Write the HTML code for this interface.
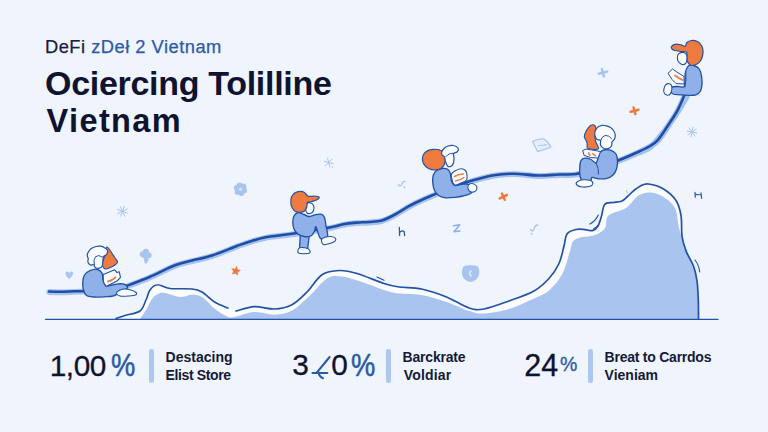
<!DOCTYPE html>
<html>
<head>
<meta charset="utf-8">
<title>DeFi Vietnam</title>
<style>
html,body{margin:0;padding:0;}
body{width:768px;height:432px;overflow:hidden;background:#f0f4fc;font-family:"Liberation Sans",sans-serif;position:relative;}
.abs{position:absolute;white-space:nowrap;line-height:1;}
.sub{left:45px;top:37.5px;font-size:18.3px;color:#1a2040;letter-spacing:0.5px;-webkit-text-stroke:0.25px #1a2040;}
.sub span{color:#2b5aa6;-webkit-text-stroke:0.25px #2b5aa6;}
.t1{left:45px;top:65.5px;font-size:34px;font-weight:bold;color:#0e1330;letter-spacing:-0.3px;}
.t2{left:46.5px;top:104.5px;font-size:32.5px;font-weight:bold;color:#0e1330;letter-spacing:1.4px;}
.num{font-size:29.8px;color:#0e1330;top:349.8px;letter-spacing:-0.7px;-webkit-text-stroke:0.3px #0e1330;}
.num span{color:#2b5aa6;-webkit-text-stroke:0.5px #2b5aa6;display:inline-block;transform-origin:0 50%;}
.bar{position:absolute;width:4.6px;top:349px;height:34px;background:#adc7ee;border-radius:2.3px;}
.lab{font-size:14px;font-weight:bold;color:#141a38;line-height:18.4px;top:347.55px;white-space:nowrap;}
.lab span{display:block;}
svg{position:absolute;left:0;top:0;}
</style>
</head>
<body>
<svg id="art" width="768" height="432" viewBox="0 0 768 432">
<!--ART-->
<path d="M116.0 318.6 C117.5 318.1 121.0 316.8 125.0 315.5 C129.0 314.2 136.5 313.6 140.0 311.0 C143.5 308.4 144.3 303.5 146.0 300.0 C147.7 296.5 148.1 292.6 150.0 290.0 C151.9 287.4 154.2 284.9 157.5 284.7 C160.8 284.4 164.2 287.8 170.0 288.5 C175.8 289.2 186.7 288.4 192.0 289.0 C197.3 289.6 198.2 289.8 202.0 292.0 C205.8 294.2 210.2 299.3 214.5 302.0 C218.8 304.7 225.8 307.0 228.0 308.0 L232 309.5 L236.0 311.0 C239.1 310.3 248.1 307.0 254.5 306.7 C260.9 306.4 268.2 309.3 274.5 309.0 C280.8 308.7 286.6 307.5 292.0 304.7 C297.4 301.9 302.0 297.0 307.0 292.0 C312.0 287.0 316.6 278.3 322.0 274.7 C327.4 271.1 333.7 270.7 339.5 270.5 C345.3 270.3 349.6 271.3 357.0 273.5 C364.4 275.7 377.0 281.2 384.0 283.5 C391.0 285.8 392.8 286.1 399.0 287.0 C405.2 287.9 413.6 287.3 421.5 289.0 C429.4 290.7 438.6 293.8 446.5 297.0 C454.4 300.2 462.8 306.0 469.0 308.0 C475.2 310.0 477.3 310.2 484.0 309.0 C490.7 307.8 500.7 304.0 509.0 301.0 C517.3 298.0 527.3 294.8 534.0 291.0 C540.7 287.2 544.8 283.1 549.0 278.5 C553.2 273.9 556.5 268.9 559.0 263.5 C561.5 258.1 562.7 250.9 564.0 246.0 C565.3 241.1 565.0 236.8 567.0 234.0 C569.0 231.2 573.0 230.2 576.0 229.5 C579.0 228.8 582.2 229.4 585.0 229.6 C587.8 229.8 590.3 231.2 592.5 230.6 C594.7 230.0 596.5 228.4 598.0 226.0 C599.5 223.6 600.4 219.6 601.5 216.0 C602.6 212.4 602.8 206.8 604.7 204.5 C606.6 202.2 610.2 203.0 613.0 202.5 C615.8 202.0 619.1 202.3 621.5 201.3 C623.9 200.3 625.5 198.3 627.5 196.5 C629.5 194.7 631.6 192.3 633.8 190.6 C636.0 188.8 638.0 187.1 640.5 186.0 C643.0 184.9 644.7 183.5 648.5 184.0 C652.3 184.5 658.9 186.2 663.5 189.0 C668.1 191.8 673.1 196.1 676.0 200.5 C678.9 204.9 680.0 209.6 681.0 215.5 C682.0 221.4 681.2 230.1 682.0 236.0 C682.8 241.9 684.1 246.0 686.0 251.0 C687.9 256.0 691.7 261.0 693.5 266.0 C695.3 271.0 696.2 275.3 697.0 281.0 C697.8 286.7 698.0 293.7 698.3 300.0 C698.5 306.3 698.5 315.8 698.5 319.0 L116 319Z" fill="#fafcff" />
<path d="M140.0 319.0 C141.0 317.5 144.0 313.3 146.0 310.0 C148.0 306.7 150.0 301.7 152.0 299.0 C154.0 296.3 155.8 295.0 158.0 294.0 C160.2 293.0 161.3 292.5 165.0 293.0 C168.7 293.5 175.5 296.7 180.0 297.0 C184.5 297.3 188.3 294.7 192.0 294.7 C195.7 294.7 198.2 294.7 202.0 297.0 C205.8 299.3 210.3 305.2 214.5 308.5 C218.7 311.8 223.7 315.1 227.0 316.5 C230.3 317.9 229.9 317.8 234.5 317.0 C239.1 316.2 247.8 312.4 254.5 312.0 C261.2 311.6 268.2 314.9 274.5 314.7 C280.8 314.4 286.2 313.6 292.0 310.5 C297.8 307.4 303.7 301.3 309.5 296.0 C315.3 290.7 321.6 281.8 327.0 278.5 C332.4 275.2 336.2 275.9 342.0 276.5 C347.8 277.1 355.0 279.8 362.0 282.0 C369.0 284.2 377.8 288.1 384.0 290.0 C390.2 291.9 392.8 292.7 399.0 293.5 C405.2 294.3 413.6 293.6 421.5 295.0 C429.4 296.4 438.6 299.3 446.5 302.0 C454.4 304.7 462.8 309.1 469.0 311.0 C475.2 312.9 477.3 313.8 484.0 313.5 C490.7 313.2 500.7 311.5 509.0 309.0 C517.3 306.5 527.3 301.6 534.0 298.5 C540.7 295.4 544.3 294.6 549.0 290.5 C553.7 286.4 558.8 280.6 562.3 274.0 C565.8 267.4 568.2 256.4 570.0 251.0 C571.8 245.6 571.3 243.8 573.0 241.5 C574.7 239.2 577.3 238.4 580.3 237.5 C583.3 236.6 587.8 236.8 591.0 236.0 C594.2 235.2 597.0 234.5 599.4 233.0 C601.8 231.5 604.0 229.9 605.5 227.0 C607.0 224.1 605.1 218.7 608.5 215.5 C611.9 212.3 621.0 211.3 626.0 208.0 C631.0 204.7 634.3 198.1 638.5 195.5 C642.7 192.9 646.8 192.2 651.0 192.5 C655.2 192.8 659.5 194.4 663.5 197.0 C667.5 199.6 672.4 202.8 675.0 208.0 C677.6 213.2 677.7 222.7 679.0 228.0 C680.3 233.3 681.5 235.8 683.0 240.0 C684.5 244.2 686.2 248.5 688.0 253.0 C689.8 257.5 692.5 262.3 694.0 267.0 C695.5 271.7 696.3 275.5 697.0 281.0 C697.7 286.5 697.8 293.7 698.0 300.0 C698.2 306.3 698.4 315.8 698.5 319.0 L140 319Z" fill="#a9c4ee" />
<path d="M45.5 319.3 L718 319.3" fill="none" stroke="#2152a6" stroke-width="1.35" stroke-linecap="round" stroke-linejoin="round" />
<path d="M116.0 318.6 C117.5 318.1 121.0 316.8 125.0 315.5 C129.0 314.2 136.5 313.6 140.0 311.0 C143.5 308.4 144.3 303.5 146.0 300.0 C147.7 296.5 148.1 292.6 150.0 290.0 C151.9 287.4 154.2 284.9 157.5 284.7 C160.8 284.4 164.2 287.8 170.0 288.5 C175.8 289.2 186.7 288.4 192.0 289.0 C197.3 289.6 198.2 289.8 202.0 292.0 C205.8 294.2 210.2 299.3 214.5 302.0 C218.8 304.7 225.8 307.0 228.0 308.0" fill="none" stroke="#2152a6" stroke-width="1.6" stroke-linecap="round" stroke-linejoin="round" />
<path d="M236.0 311.0 C239.1 310.3 248.1 307.0 254.5 306.7 C260.9 306.4 268.2 309.3 274.5 309.0 C280.8 308.7 286.6 307.5 292.0 304.7 C297.4 301.9 302.0 297.0 307.0 292.0 C312.0 287.0 316.6 278.3 322.0 274.7 C327.4 271.1 333.7 270.7 339.5 270.5 C345.3 270.3 349.6 271.3 357.0 273.5 C364.4 275.7 377.0 281.2 384.0 283.5 C391.0 285.8 392.8 286.1 399.0 287.0 C405.2 287.9 413.6 287.3 421.5 289.0 C429.4 290.7 438.6 293.8 446.5 297.0 C454.4 300.2 462.8 306.0 469.0 308.0 C475.2 310.0 477.3 310.2 484.0 309.0 C490.7 307.8 500.7 304.0 509.0 301.0 C517.3 298.0 527.3 294.8 534.0 291.0 C540.7 287.2 544.8 283.1 549.0 278.5 C553.2 273.9 556.5 268.9 559.0 263.5 C561.5 258.1 562.7 250.9 564.0 246.0 C565.3 241.1 565.0 236.8 567.0 234.0 C569.0 231.2 573.0 230.2 576.0 229.5 C579.0 228.8 582.2 229.4 585.0 229.6 C587.8 229.8 590.3 231.2 592.5 230.6 C594.7 230.0 596.5 228.4 598.0 226.0 C599.5 223.6 600.4 219.6 601.5 216.0 C602.6 212.4 602.8 206.8 604.7 204.5 C606.6 202.2 610.2 203.0 613.0 202.5 C615.8 202.0 619.1 202.3 621.5 201.3 C623.9 200.3 625.5 198.3 627.5 196.5 C629.5 194.7 631.6 192.3 633.8 190.6 C636.0 188.8 638.0 187.1 640.5 186.0 C643.0 184.9 644.7 183.5 648.5 184.0 C652.3 184.5 658.9 186.2 663.5 189.0 C668.1 191.8 673.1 196.1 676.0 200.5 C678.9 204.9 680.0 209.6 681.0 215.5 C682.0 221.4 681.2 230.1 682.0 236.0 C682.8 241.9 684.1 246.0 686.0 251.0 C687.9 256.0 691.7 261.0 693.5 266.0 C695.3 271.0 696.2 275.3 697.0 281.0 C697.8 286.7 698.0 293.7 698.3 300.0 C698.5 306.3 698.5 315.8 698.5 319.0" fill="none" stroke="#2152a6" stroke-width="1.7" stroke-linecap="round" stroke-linejoin="round" />
<path d="M377 277 L384 280.3" fill="none" stroke="#2152a6" stroke-width="1.2" stroke-linecap="round" stroke-linejoin="round" />
<path d="M695 260 Q699 265 699.7 272" fill="none" stroke="#2152a6" stroke-width="1.1" stroke-linecap="round" stroke-linejoin="round" />
<path d="M590 224 Q595.5 221 598.3 215" fill="none" stroke="#2152a6" stroke-width="1.2" stroke-linecap="round" stroke-linejoin="round" />
<path d="M593.5 228.8 Q596.5 227.5 598.5 224.5" fill="none" stroke="#2152a6" stroke-width="1.0" stroke-linecap="round" stroke-linejoin="round" />
<path d="M626.5 190.5 L627.5 193" fill="none" stroke="#a9c4ee" stroke-width="1.0" stroke-linecap="round" stroke-linejoin="round" />
<path d="M49.2 292.0 C51.0 292.1 55.9 292.3 60.2 292.3 C64.5 292.3 70.5 291.9 75.2 291.8 C79.9 291.7 86.0 291.6 88.2 291.5" fill="none" stroke="#a6c2ef" stroke-width="5.8" stroke-linecap="round" stroke-linejoin="round" />
<path d="M118.2 289.5 C120.2 288.8 124.9 287.1 130.2 285.1 C135.5 283.1 142.7 280.5 150.2 277.3 C157.7 274.1 168.2 268.5 175.2 265.8 C182.2 263.1 186.0 262.7 192.2 261.1 C198.4 259.5 204.7 258.4 212.2 256.0 C219.7 253.6 230.9 248.8 237.2 246.5 C243.5 244.2 245.2 243.5 250.2 242.0 C255.2 240.5 260.2 238.8 267.2 237.5 C274.2 236.2 281.5 235.9 292.2 234.3 C302.9 232.7 322.7 229.4 331.2 227.8 C339.7 226.2 339.0 225.6 343.2 224.8 C347.4 224.0 351.9 223.5 356.2 223.1 C360.5 222.7 364.9 222.9 369.2 222.5 C373.5 222.1 377.9 222.2 382.2 220.9 C386.5 219.7 390.9 217.3 395.2 215.0 C399.5 212.7 403.9 209.6 408.2 207.2 C412.5 204.8 416.9 202.7 421.2 200.7 C425.5 198.7 428.5 197.5 434.2 195.1 C439.9 192.7 448.5 188.9 455.2 186.5 C461.9 184.1 467.7 182.3 474.2 180.5 C480.7 178.7 487.5 176.8 494.2 175.7 C500.9 174.6 506.7 174.1 514.2 174.2 C521.7 174.2 531.7 175.9 539.2 176.0 C546.7 176.1 553.0 175.2 559.2 175.0 C565.4 174.8 570.9 175.4 576.2 174.5 C581.5 173.6 584.5 171.9 591.2 169.8 C597.9 167.7 608.3 164.7 616.2 161.8 C624.1 158.9 633.0 154.9 638.7 152.3 C644.4 149.8 647.0 148.5 650.2 146.5 C653.5 144.5 655.2 143.7 658.2 140.3 C661.2 136.9 664.8 131.2 668.0 126.3 C671.2 121.4 674.9 116.1 677.7 111.0 C680.5 105.9 683.5 98.3 684.6 95.8" fill="none" stroke="#a6c2ef" stroke-width="5.8" stroke-linecap="round" stroke-linejoin="round" />
<path d="M640.0 152.5 C641.7 151.7 647.2 149.5 650.0 147.5 C652.8 145.5 653.8 143.8 656.5 140.5 C659.2 137.2 662.5 133.5 666.5 128.0 C670.5 122.5 677.1 112.8 680.5 107.5 C683.9 102.2 685.9 98.3 687.0 96.5" fill="none" stroke="#a3c0ee" stroke-width="5.5" stroke-linecap="round" stroke-linejoin="round" />
<path d="M49.0 291.5 C50.8 291.6 55.7 291.8 60.0 291.8 C64.3 291.8 70.3 291.4 75.0 291.3 C79.7 291.2 85.8 291.1 88.0 291.0" fill="none" stroke="#1f4ea4" stroke-width="2.6" stroke-linecap="round" stroke-linejoin="round" />
<path d="M118.0 289.0 C120.0 288.3 124.7 286.6 130.0 284.6 C135.3 282.6 142.5 280.0 150.0 276.8 C157.5 273.6 168.0 268.0 175.0 265.3 C182.0 262.6 185.8 262.2 192.0 260.6 C198.2 259.0 204.5 257.9 212.0 255.5 C219.5 253.1 230.7 248.3 237.0 246.0 C243.3 243.7 245.0 243.0 250.0 241.5 C255.0 240.0 260.0 238.3 267.0 237.0 C274.0 235.7 281.3 235.4 292.0 233.8 C302.7 232.2 322.5 228.9 331.0 227.3 C339.5 225.7 338.8 225.1 343.0 224.3 C347.2 223.5 351.7 223.0 356.0 222.6 C360.3 222.2 364.7 222.4 369.0 222.0 C373.3 221.6 377.7 221.7 382.0 220.4 C386.3 219.2 390.7 216.8 395.0 214.5 C399.3 212.2 403.7 209.1 408.0 206.7 C412.3 204.3 416.7 202.2 421.0 200.2 C425.3 198.2 428.3 197.0 434.0 194.6 C439.7 192.2 448.3 188.4 455.0 186.0 C461.7 183.6 467.5 181.8 474.0 180.0 C480.5 178.2 487.3 176.2 494.0 175.2 C500.7 174.1 506.5 173.6 514.0 173.7 C521.5 173.8 531.5 175.4 539.0 175.5 C546.5 175.6 552.8 174.8 559.0 174.5 C565.2 174.2 570.7 174.9 576.0 174.0 C581.3 173.1 584.3 171.4 591.0 169.3 C597.7 167.2 608.1 164.2 616.0 161.3 C623.9 158.4 632.8 154.4 638.5 151.8 C644.2 149.2 646.8 148.0 650.0 146.0 C653.2 144.0 655.0 143.2 658.0 139.8 C661.0 136.4 664.5 130.7 667.8 125.8 C671.0 120.9 674.7 115.6 677.5 110.5 C680.3 105.4 683.2 97.8 684.4 95.3" fill="none" stroke="#1f4ea4" stroke-width="2.6" stroke-linecap="round" stroke-linejoin="round" />
<path d="M97.0 269.3 C95.0 268.9 92.1 269.8 90.0 270.7 C87.9 271.6 85.7 273.1 84.5 275.0 C83.3 276.9 83.0 279.5 82.8 282.0 C82.6 284.5 82.9 287.8 83.5 290.0 C84.1 292.2 84.8 294.3 86.5 295.5 C88.2 296.7 91.1 296.8 94.0 297.0 C96.9 297.2 100.8 297.0 104.0 296.8 C107.2 296.6 110.5 296.6 113.0 296.0 C115.5 295.4 117.2 294.0 119.0 293.0 C120.8 292.0 122.6 290.9 124.0 290.0 C125.4 289.1 127.5 288.5 127.5 287.5 C127.5 286.5 125.4 284.8 124.0 284.2 C122.6 283.6 121.0 283.7 119.0 283.8 C117.0 283.9 114.2 284.6 112.0 285.0 C109.8 285.4 107.5 286.8 106.0 286.0 C104.5 285.2 103.7 282.2 103.0 280.0 C102.3 277.8 103.0 274.8 102.0 273.0 C101.0 271.2 99.0 269.7 97.0 269.3Z" fill="#8fb0e8" stroke="#2152a6" stroke-width="1.35" stroke-linecap="round" stroke-linejoin="round" />
<path d="M116.5 293.5 C116.3 292.6 117.8 291.2 119.0 290.5 C120.2 289.8 122.0 289.1 124.0 289.0 C126.0 288.9 129.0 289.4 131.0 290.0 C133.0 290.6 135.2 291.7 136.0 292.5 C136.8 293.3 136.8 294.4 135.5 295.0 C134.2 295.6 130.6 295.8 128.0 296.0 C125.4 296.2 121.9 296.4 120.0 296.0 C118.1 295.6 116.7 294.4 116.5 293.5Z" fill="#fbfcff" stroke="#2152a6" stroke-width="1.1" stroke-linecap="round" stroke-linejoin="round" />
<path d="M103.2 274.5 L114.8 269.8 L117 272.6 L119.3 271.8 L120.5 277.3 L117 281 L106 286.4 L103.4 282 Z" fill="#fbfcff" stroke="#2152a6" stroke-width="1.1" stroke-linecap="round" stroke-linejoin="round" />
<path d="M108 281.5 Q111.5 281 115.5 277.3" fill="none" stroke="#ef7a40" stroke-width="1.8" stroke-linecap="round" stroke-linejoin="round" />
<path d="M107.0 247.0 C107.9 247.2 109.8 250.0 111.0 251.7 C112.2 253.4 113.4 255.4 114.5 257.2 C115.6 258.9 117.8 260.7 117.5 262.2 C117.2 263.7 115.0 265.1 113.0 266.2 C111.0 267.3 107.3 269.4 105.5 269.0 C103.7 268.6 102.5 265.8 102.3 263.7 C102.1 261.6 104.0 258.9 104.5 256.7 C105.0 254.5 105.1 252.3 105.5 250.7 C105.9 249.1 106.1 246.8 107.0 247.0Z" fill="#ef7a40" stroke="#2152a6" stroke-width="1.1" stroke-linecap="round" stroke-linejoin="round" />
<path d="M96.0 246.5 C97.6 246.1 99.1 246.0 100.5 246.2 C101.9 246.4 103.3 246.9 104.5 247.7 C105.7 248.4 107.2 249.5 107.5 250.7 C107.8 251.9 107.2 253.7 106.5 254.7 C105.8 255.7 104.1 255.6 103.5 256.7 C102.9 257.8 103.0 259.7 102.8 261.2 C102.6 262.7 102.8 264.5 102.3 265.7 C101.8 266.9 100.6 267.9 99.5 268.2 C98.4 268.5 96.5 268.3 95.5 267.7 C94.5 267.1 94.3 265.1 93.5 264.7 C92.7 264.2 91.4 265.4 90.5 265.0 C89.6 264.6 88.4 263.2 88.0 262.2 C87.6 261.1 88.3 259.9 88.2 258.7 C88.1 257.5 87.2 256.4 87.2 255.2 C87.2 254.0 87.9 252.8 88.5 251.7 C89.1 250.6 89.8 249.6 91.0 248.7 C92.2 247.8 94.4 246.9 96.0 246.5Z" fill="#fbfcff" stroke="#2152a6" stroke-width="1.2" stroke-linecap="round" stroke-linejoin="round" />
<path d="M94.3 264.7 Q93 259.7 95.5 256.7 Q98.5 254.2 102.5 257" fill="none" stroke="#2152a6" stroke-width="1.0" stroke-linecap="round" stroke-linejoin="round" />
<path d="M300.5 232 L299.5 248.5 L307.5 249.5 L309.5 234 Z" fill="#8fb0e8" stroke="#2152a6" stroke-width="1.35" stroke-linecap="round" stroke-linejoin="round" />
<path d="M298.0 250.0 C298.2 249.1 298.7 248.1 300.0 247.8 C301.3 247.5 304.4 247.6 306.0 248.0 C307.6 248.4 309.2 249.6 309.7 250.5 C310.2 251.4 310.8 252.8 309.0 253.3 C307.2 253.8 300.8 253.9 299.0 253.3 C297.2 252.8 297.8 250.9 298.0 250.0Z" fill="#fbfcff" stroke="#2152a6" stroke-width="1.1" stroke-linecap="round" stroke-linejoin="round" />
<path d="M298.0 212.5 C296.3 212.8 294.9 214.4 294.0 216.0 C293.1 217.6 292.8 219.8 292.8 222.0 C292.8 224.2 293.1 227.0 294.0 229.0 C294.9 231.0 296.3 232.8 298.0 234.0 C299.7 235.2 301.8 236.2 304.0 236.5 C306.2 236.8 309.2 236.9 311.0 236.0 C312.8 235.1 313.7 232.5 314.5 231.0 C315.3 229.5 315.0 225.8 316.0 227.0 C317.0 228.2 318.6 236.9 320.5 238.5 C322.4 240.1 326.6 238.6 327.5 236.5 C328.4 234.4 326.5 229.2 326.0 226.0 C325.5 222.8 325.3 219.5 324.5 217.5 C323.7 215.5 322.6 214.6 321.0 214.2 C319.4 213.8 317.0 214.4 315.0 214.8 C313.0 215.2 310.8 216.6 309.0 216.5 C307.2 216.4 305.8 215.2 304.0 214.5 C302.2 213.8 299.7 212.2 298.0 212.5Z" fill="#8fb0e8" stroke="#2152a6" stroke-width="1.35" stroke-linecap="round" stroke-linejoin="round" />
<path d="M321.5 239.5 C321.8 238.3 323.4 237.8 325.0 237.3 C326.6 236.8 329.2 236.3 331.0 236.5 C332.8 236.7 334.9 237.7 335.5 238.5 C336.1 239.3 335.8 240.6 334.5 241.5 C333.2 242.4 329.9 243.5 328.0 244.0 C326.1 244.5 324.1 245.1 323.0 244.3 C321.9 243.6 321.2 240.7 321.5 239.5Z" fill="#fbfcff" stroke="#2152a6" stroke-width="1.1" stroke-linecap="round" stroke-linejoin="round" />
<path d="M307.0 203.5 C307.9 202.7 309.9 202.6 311.0 203.0 C312.1 203.4 313.3 204.8 313.7 206.0 C314.1 207.2 313.9 209.3 313.5 210.5 C313.1 211.7 312.1 212.8 311.0 213.2 C309.9 213.6 307.9 213.9 307.0 213.0 C306.1 212.1 305.5 209.6 305.5 208.0 C305.5 206.4 306.1 204.3 307.0 203.5Z" fill="#fbfcff" stroke="#2152a6" stroke-width="1.1" stroke-linecap="round" stroke-linejoin="round" />
<path d="M290.8 203.0 C290.7 201.2 290.8 198.7 291.5 197.0 C292.2 195.3 293.6 193.8 295.0 192.8 C296.4 191.9 298.4 191.4 300.0 191.3 C301.6 191.2 303.2 191.7 304.5 192.5 C305.8 193.3 306.4 195.4 308.0 196.0 C309.6 196.6 312.2 196.1 314.0 196.2 C315.8 196.3 318.4 196.2 319.0 196.8 C319.6 197.4 318.7 198.7 317.5 199.5 C316.3 200.3 313.7 201.0 312.0 201.5 C310.3 202.0 308.4 201.6 307.5 202.5 C306.6 203.4 307.3 205.6 306.8 207.0 C306.3 208.4 305.6 210.1 304.5 211.0 C303.4 211.9 301.5 212.2 300.0 212.3 C298.5 212.4 296.8 212.2 295.5 211.5 C294.2 210.8 293.1 209.4 292.3 208.0 C291.5 206.6 290.9 204.8 290.8 203.0Z" fill="#ef7a40" stroke="#2152a6" stroke-width="1.2" stroke-linecap="round" stroke-linejoin="round" />
<path d="M442.0 168.5 C440.1 168.7 438.0 169.3 436.5 170.5 C435.0 171.7 433.8 173.4 433.2 175.5 C432.6 177.6 432.6 180.5 432.8 183.0 C433.0 185.5 433.5 188.4 434.5 190.5 C435.5 192.6 437.1 194.6 439.0 195.8 C440.9 197.0 443.3 197.6 446.0 197.8 C448.7 198.1 452.2 197.6 455.0 197.3 C457.8 197.0 460.5 196.6 463.0 196.0 C465.5 195.4 468.4 194.9 470.0 193.8 C471.6 192.7 473.0 191.1 472.8 189.5 C472.6 187.9 470.8 185.4 469.0 184.5 C467.2 183.6 464.3 184.1 462.0 184.3 C459.7 184.5 456.8 186.1 455.0 185.5 C453.2 184.9 452.2 182.9 451.5 181.0 C450.8 179.1 451.1 175.9 450.5 174.0 C449.9 172.1 449.4 170.4 448.0 169.5 C446.6 168.6 443.9 168.3 442.0 168.5Z" fill="#8fb0e8" stroke="#2152a6" stroke-width="1.35" stroke-linecap="round" stroke-linejoin="round" />
<path d="M468.5 185.0 C469.2 184.2 470.8 183.4 472.0 183.5 C473.2 183.6 475.2 184.6 476.0 185.5 C476.8 186.4 477.1 187.9 476.8 189.0 C476.6 190.1 475.6 191.4 474.5 191.8 C473.4 192.2 471.1 192.1 470.0 191.5 C468.9 190.9 468.2 189.6 468.0 188.5 C467.8 187.4 467.8 185.8 468.5 185.0Z" fill="#fbfcff" stroke="#2152a6" stroke-width="1.1" stroke-linecap="round" stroke-linejoin="round" />
<path d="M451.3 175.0 C451.4 172.7 453.4 172.0 455.0 171.0 C456.6 170.0 459.2 168.9 461.0 168.8 C462.8 168.7 464.5 169.5 465.5 170.5 C466.5 171.5 466.8 173.4 467.0 175.0 C467.2 176.6 467.5 178.7 466.5 180.0 C465.5 181.3 463.0 182.2 461.0 183.0 C459.0 183.8 455.9 186.1 454.3 184.8 C452.7 183.5 451.2 177.3 451.3 175.0Z" fill="#fbfcff" stroke="#2152a6" stroke-width="1.1" stroke-linecap="round" stroke-linejoin="round" />
<path d="M454.5 176.5 Q459 173.8 463.5 174 M455.5 181 Q460 180.5 464 177.5" fill="none" stroke="#ef7a40" stroke-width="1.5" stroke-linecap="round" stroke-linejoin="round" />
<path d="M433.0 149.3 C434.9 149.2 437.2 149.2 439.0 149.8 C440.8 150.4 442.8 151.6 443.8 153.0 C444.9 154.4 445.2 156.7 445.3 158.5 C445.4 160.3 445.2 162.3 444.5 164.0 C443.8 165.7 442.6 167.5 441.0 168.5 C439.4 169.5 437.1 170.0 435.0 170.0 C432.9 170.0 430.3 169.4 428.5 168.5 C426.7 167.6 425.0 165.8 424.0 164.3 C423.0 162.8 422.4 161.0 422.4 159.3 C422.4 157.6 422.9 155.4 423.8 154.0 C424.7 152.6 426.3 151.4 427.8 150.6 C429.3 149.8 431.1 149.4 433.0 149.3Z" fill="#ef7a40" stroke="#2152a6" stroke-width="1.2" stroke-linecap="round" stroke-linejoin="round" />
<path d="M441.5 154.0 C441.3 152.7 442.4 150.3 443.5 149.0 C444.6 147.7 446.3 146.6 448.0 146.0 C449.7 145.4 451.8 145.1 453.5 145.5 C455.2 145.9 457.7 147.4 458.3 148.5 C458.9 149.6 457.8 151.2 457.0 152.0 C456.2 152.8 454.0 152.5 453.5 153.5 C453.0 154.5 454.0 156.4 454.0 158.0 C454.0 159.6 454.0 161.6 453.5 163.0 C453.0 164.4 452.0 165.8 451.0 166.3 C450.0 166.8 448.4 166.8 447.5 166.0 C446.6 165.2 446.0 163.0 445.5 161.5 C445.0 160.0 445.2 158.2 444.5 157.0 C443.8 155.8 441.7 155.3 441.5 154.0Z" fill="#fbfcff" stroke="#2152a6" stroke-width="1.2" stroke-linecap="round" stroke-linejoin="round" />
<path d="M446 156.5 Q449 152.5 454 153.5" fill="none" stroke="#2152a6" stroke-width="1.0" stroke-linecap="round" stroke-linejoin="round" />
<path d="M604.0 150.0 C605.8 149.6 609.0 149.6 611.0 150.3 C613.0 151.0 614.9 152.2 616.0 154.0 C617.1 155.8 617.4 158.5 617.5 161.0 C617.6 163.5 617.2 166.7 616.5 169.0 C615.8 171.3 614.6 173.4 613.0 175.0 C611.4 176.6 609.3 177.7 607.0 178.3 C604.7 178.9 601.5 178.9 599.0 178.8 C596.5 178.7 593.4 177.1 592.0 177.5 C590.6 177.9 592.0 180.8 590.5 181.5 C589.0 182.2 584.8 182.4 583.0 181.5 C581.2 180.6 580.5 178.4 580.0 176.0 C579.5 173.6 579.6 169.6 579.8 167.0 C580.0 164.4 580.1 162.0 581.0 160.5 C581.9 159.0 583.3 158.4 585.0 158.2 C586.7 158.0 589.2 158.7 591.0 159.5 C592.8 160.3 594.8 163.4 596.0 163.0 C597.2 162.6 597.8 158.8 598.5 157.0 C599.2 155.2 599.1 153.7 600.0 152.5 C600.9 151.3 602.2 150.4 604.0 150.0Z" fill="#8fb0e8" stroke="#2152a6" stroke-width="1.35" stroke-linecap="round" stroke-linejoin="round" />
<path d="M596 163 Q599 168 598.5 174" fill="none" stroke="#2152a6" stroke-width="1.0" stroke-linecap="round" stroke-linejoin="round" />
<path d="M576.2 184.0 C575.8 183.0 577.2 181.7 578.5 181.0 C579.8 180.3 582.0 179.9 584.0 179.8 C586.0 179.7 589.0 179.9 590.5 180.5 C592.0 181.1 592.9 182.5 592.8 183.5 C592.7 184.5 592.0 185.8 590.0 186.3 C588.0 186.9 583.3 187.2 581.0 186.8 C578.7 186.4 576.6 185.0 576.2 184.0Z" fill="#fbfcff" stroke="#2152a6" stroke-width="1.1" stroke-linecap="round" stroke-linejoin="round" />
<path d="M583 150.5 L586 149 L600.5 151.5 L598 158 L590.5 157.5 L584.5 155.5 Z" fill="#fbfcff" stroke="#2152a6" stroke-width="1.0" stroke-linecap="round" stroke-linejoin="round" />
<path d="M588.5 153 L590 155.5 M592.5 153.5 L595.5 155.8" fill="none" stroke="#ef7a40" stroke-width="1.5" stroke-linecap="round" stroke-linejoin="round" />
<path d="M590.5 125.5 C591.8 124.6 593.6 124.7 594.5 125.3 C595.4 125.9 595.9 127.4 596.0 129.0 C596.1 130.6 595.1 133.0 595.0 135.0 C594.9 137.0 594.9 138.8 595.5 141.0 C596.1 143.2 598.9 147.1 598.5 148.5 C598.1 149.9 594.8 149.4 593.0 149.3 C591.2 149.2 588.5 149.3 587.5 148.2 C586.5 147.1 587.5 144.4 587.0 142.5 C586.5 140.6 584.4 138.5 584.3 136.5 C584.2 134.5 585.5 132.3 586.5 130.5 C587.5 128.7 589.2 126.4 590.5 125.5Z" fill="#ef7a40" stroke="#2152a6" stroke-width="1.1" stroke-linecap="round" stroke-linejoin="round" />
<path d="M598.0 127.0 C599.2 126.0 600.6 125.5 602.0 125.3 C603.4 125.1 605.1 125.4 606.5 125.8 C607.9 126.2 609.3 126.7 610.5 127.5 C611.7 128.3 612.7 129.3 613.5 130.5 C614.3 131.7 615.0 133.1 615.2 134.5 C615.4 135.9 615.0 137.8 614.5 139.0 C614.0 140.2 612.5 140.8 612.0 142.0 C611.5 143.2 612.2 144.9 611.5 146.0 C610.8 147.1 609.3 148.2 608.0 148.6 C606.7 149.0 604.8 148.9 603.5 148.3 C602.2 147.7 601.0 146.3 600.5 145.0 C600.0 143.7 601.1 141.4 600.5 140.5 C599.9 139.6 597.9 140.2 597.0 139.5 C596.1 138.8 595.3 137.3 595.0 136.0 C594.7 134.7 594.5 133.0 595.0 131.5 C595.5 130.0 596.8 128.0 598.0 127.0Z" fill="#fbfcff" stroke="#2152a6" stroke-width="1.2" stroke-linecap="round" stroke-linejoin="round" />
<path d="M600.5 141 Q601.5 136.5 605 135.5 Q609 135 611.5 138.5" fill="none" stroke="#2152a6" stroke-width="1.0" stroke-linecap="round" stroke-linejoin="round" />
<path d="M689.0 65.5 C690.6 64.5 693.2 65.3 695.0 66.0 C696.8 66.7 698.4 67.8 699.5 69.5 C700.6 71.2 701.1 73.6 701.5 76.0 C701.9 78.4 702.2 81.5 702.0 84.0 C701.8 86.5 701.5 89.2 700.5 91.0 C699.5 92.8 698.1 94.1 696.0 94.8 C693.9 95.5 690.7 95.3 688.0 95.3 C685.3 95.3 682.5 95.0 680.0 94.8 C677.5 94.6 674.6 94.7 673.0 94.0 C671.4 93.3 670.7 91.6 670.5 90.5 C670.3 89.4 670.8 87.9 672.0 87.2 C673.2 86.5 676.0 86.6 678.0 86.5 C680.0 86.4 682.8 87.9 684.0 86.8 C685.2 85.7 684.8 82.5 685.0 80.0 C685.2 77.5 684.8 74.4 685.5 72.0 C686.2 69.6 687.4 66.5 689.0 65.5Z" fill="#8fb0e8" stroke="#2152a6" stroke-width="1.35" stroke-linecap="round" stroke-linejoin="round" />
<path d="M685 86.8 Q686.5 80 685.8 72.5" fill="none" stroke="#2152a6" stroke-width="1.0" stroke-linecap="round" stroke-linejoin="round" />
<path d="M664.2 88.0 C664.6 86.8 665.1 85.2 666.0 84.5 C666.9 83.8 668.5 83.5 669.5 83.8 C670.5 84.1 671.5 85.3 671.8 86.5 C672.1 87.7 671.9 89.6 671.5 91.0 C671.1 92.4 670.5 94.2 669.5 94.8 C668.5 95.4 666.5 95.0 665.5 94.5 C664.5 94.0 664.0 92.6 663.8 91.5 C663.6 90.4 663.8 89.2 664.2 88.0Z" fill="#fbfcff" stroke="#2152a6" stroke-width="1.1" stroke-linecap="round" stroke-linejoin="round" />
<path d="M668.3 73 L672.5 69 L676 71.5 L684 76.5 L684.2 84 L676 83.5 L672.5 80 Z" fill="#fbfcff" stroke="#2152a6" stroke-width="1.0" stroke-linecap="round" stroke-linejoin="round" />
<path d="M675 75.5 Q679 78.5 683 80.3" fill="none" stroke="#ef7a40" stroke-width="1.7" stroke-linecap="round" stroke-linejoin="round" />
<path d="M679.0 53.5 C680.0 52.9 682.2 52.2 683.5 52.5 C684.8 52.8 686.2 53.8 686.8 55.0 C687.4 56.2 687.3 58.5 687.0 60.0 C686.7 61.5 686.0 63.3 685.0 64.0 C684.0 64.7 682.2 64.6 681.0 64.0 C679.8 63.4 678.4 61.8 677.8 60.5 C677.2 59.2 677.4 57.2 677.6 56.0 C677.8 54.8 678.0 54.1 679.0 53.5Z" fill="#fbfcff" stroke="#2152a6" stroke-width="1.1" stroke-linecap="round" stroke-linejoin="round" />
<path d="M671.5 46.5 C672.0 45.7 673.4 44.6 675.0 44.3 C676.6 44.0 679.3 44.5 681.0 44.8 C682.7 45.1 684.0 46.7 685.0 46.3 C686.0 45.9 685.9 43.5 687.0 42.5 C688.1 41.5 689.8 40.7 691.5 40.5 C693.2 40.3 695.4 40.6 697.0 41.3 C698.6 42.0 700.0 43.3 701.0 44.8 C702.0 46.2 702.8 48.1 703.0 50.0 C703.2 51.9 703.0 54.1 702.5 56.0 C702.0 57.9 701.2 60.0 700.0 61.5 C698.8 63.0 697.1 64.2 695.5 64.8 C693.9 65.4 691.8 65.8 690.5 65.2 C689.2 64.7 688.1 63.0 687.5 61.5 C686.9 60.0 687.2 57.6 687.0 56.0 C686.8 54.4 687.5 52.8 686.5 52.0 C685.5 51.2 682.9 51.8 681.0 51.5 C679.1 51.2 676.5 50.9 675.0 50.5 C673.5 50.1 672.6 49.7 672.0 49.0 C671.4 48.3 671.0 47.3 671.5 46.5Z" fill="#ef7a40" stroke="#2152a6" stroke-width="1.2" stroke-linecap="round" stroke-linejoin="round" />
<path d="M117.6 209.5 L127.4 213.1 M120.3 206.6 L124.7 216.0 M124.3 206.4 L120.7 216.2 M127.2 209.1 L117.8 213.5 " fill="none" stroke="#a9c4ee" stroke-width="1.0" stroke-linecap="round" stroke-linejoin="round" />
<path d="M69.2 279 C64.5 275.5 64.8 271.6 67.2 271.6 C68.4 271.6 69 272.6 69.2 273.4 C69.4 272.6 70.2 271.6 71.4 271.6 C73.8 271.6 73.9 275.5 69.2 279Z" fill="#a9c4ee" />
<circle cx="142.8" cy="254.3" r="3.0" fill="#a9c4ee"/>
<circle cx="145.8" cy="251.8" r="3.1" fill="#a9c4ee"/>
<circle cx="148.6" cy="255.2" r="3.0" fill="#a9c4ee"/>
<circle cx="145.5" cy="255.5" r="3.2" fill="#a9c4ee"/>
<circle cx="146.3" cy="259.8" r="2.3" fill="#a9c4ee"/>
<circle cx="145.8" cy="262.0" r="1.5" fill="#a9c4ee"/>
<circle cx="244.2" cy="190.4" r="2.9" fill="#a9c4ee"/>
<circle cx="241.4" cy="193.0" r="2.9" fill="#a9c4ee"/>
<circle cx="237.6" cy="191.9" r="2.9" fill="#a9c4ee"/>
<circle cx="236.8" cy="188.0" r="2.9" fill="#a9c4ee"/>
<circle cx="239.6" cy="185.4" r="2.9" fill="#a9c4ee"/>
<circle cx="243.4" cy="186.5" r="2.9" fill="#a9c4ee"/>
<circle cx="240.5" cy="189.2" r="3.4" fill="#a9c4ee"/>
<circle cx="240.5" cy="189.2" r="1.6" fill="#dbe6f8"/>
<path d="M324.3 161.4 L333.1 163.8 M327.5 158.2 L329.9 167.0 M332.0 159.3 L325.4 165.9 " fill="none" stroke="#a9c4ee" stroke-width="1.0" stroke-linecap="round" stroke-linejoin="round" />
<circle cx="332.5" cy="167" r="0.7" fill="#a9c4ee"/>
<path d="M687.1 131.1 L696.9 132.9 M689.1 127.9 L694.9 136.1 M692.9 127.1 L691.1 136.9 M696.1 129.1 L687.9 134.9 " fill="none" stroke="#a9c4ee" stroke-width="1.0" stroke-linecap="round" stroke-linejoin="round" />
<path d="M236.8 266.5 L237.4 269.5 L240.4 270.5 L237.7 272.1 L237.7 275.2 L235.3 273.2 L232.4 274.1 L233.6 271.2 L231.8 268.7 L234.9 269.0Z" fill="#ef7a40" stroke="#ef7a40" stroke-width="0.6" stroke-linecap="round" stroke-linejoin="round" />
<path d="M499.7 198.4 L506.9 195.0 M501.9 193.6 L504.7 199.8 " fill="none" stroke="#ef7a40" stroke-width="2.5" stroke-linecap="round" stroke-linejoin="round" />
<circle cx="503.3" cy="196.7" r="2.0" fill="#ef7a40"/>
<path d="M630.6 111.8 L638.4 109.8 M633.6 107.5 L635.4 114.1 " fill="none" stroke="#ef7a40" stroke-width="2.5" stroke-linecap="round" stroke-linejoin="round" />
<circle cx="634.5" cy="110.8" r="2.0" fill="#ef7a40"/>
<path d="M598.6 73.8 L607.2 71.6 M601.9 69.1 L603.9 76.3 " fill="none" stroke="#a9c4ee" stroke-width="2.5" stroke-linecap="round" stroke-linejoin="round" />
<circle cx="602.9" cy="72.7" r="2.0" fill="#a9c4ee"/>
<path d="M398.5 184.5 Q400 187.5 401.8 184.5 Q403 180.5 405.3 181.5 M404 186.8 L404.6 187.6" fill="none" stroke="#a9c4ee" stroke-width="1.3" stroke-linecap="round" stroke-linejoin="round" />
<path d="M530.5 229.5 Q533 232.5 534 229 Q535 225 537.8 225 M531.3 233.5 L531.9 234.2" fill="none" stroke="#a9c4ee" stroke-width="1.3" stroke-linecap="round" stroke-linejoin="round" />
<path d="M399.3 227.5 L399.6 235.5 M399.6 232.5 Q402.5 229.5 404.3 232 L404.6 235.5" fill="none" stroke="#2b5aa6" stroke-width="1.3" stroke-linecap="round" stroke-linejoin="round" />
<path d="M453.5 225.8 L459.8 224.8 L454 231.8 L460 231" fill="none" stroke="#8fb0e8" stroke-width="1.6" stroke-linecap="round" stroke-linejoin="round" />
<path d="M532.5 141.5 Q538 138.5 544 139 Q549 142.5 550.8 147.3 L537.6 151.6 Z" fill="#e6eefb" stroke="#a9c4ee" stroke-width="1.2" stroke-linecap="round" stroke-linejoin="round" />
<path d="M538.5 145.8 L546.5 144.8" fill="none" stroke="#a9c4ee" stroke-width="1.1" stroke-linecap="round" stroke-linejoin="round" />
<path d="M464.0 266.3 C465.4 265.3 468.3 265.2 470.5 265.2 C472.7 265.2 475.8 265.3 477.3 266.3 C478.8 267.3 479.1 269.3 479.3 271.0 C479.5 272.7 479.0 274.9 478.3 276.5 C477.6 278.1 476.3 279.4 475.0 280.3 C473.7 281.2 472.0 281.9 470.5 281.9 C469.0 281.9 467.3 281.2 466.0 280.3 C464.7 279.4 463.4 278.1 462.7 276.5 C462.0 274.9 461.8 272.7 462.0 271.0 C462.2 269.3 462.6 267.3 464.0 266.3Z" fill="#a9c4ee" />
<path d="M471 271 Q468.4 273.5 471.2 276.2" fill="none" stroke="#f4f7fd" stroke-width="1.2" stroke-linecap="round" stroke-linejoin="round" />
<path d="M695 192.3 L695.3 197.2 M695.2 194.2 Q698 195 700.8 194.6 M701 192.8 L701.6 198.4" fill="none" stroke="#2b5aa6" stroke-width="1.2" stroke-linecap="round" stroke-linejoin="round" />
<path d="M329.6 357 L316.6 372.8 M312.5 373 L327.3 373 M319 374.5 Q320.5 377.5 323 378.2" fill="none" stroke="#2b5aa6" stroke-width="2.1" stroke-linecap="round" stroke-linejoin="round" />
<!--/ART-->
</svg>
<div class="abs sub">DeFi <span>zDe&#322; 2 Vietnam</span></div>
<div class="abs t1">Ociercing Tolilline</div>
<div class="abs t2">Vietnam</div>

<div class="abs num" id="n1" style="left:49.8px;letter-spacing:-0.5px">1,00<span style="margin-left:4.8px;font-size:31px;transform:scaleX(0.88)">%</span></div>
<div class="bar" style="left:149px;"></div>
<div class="abs lab" id="l1" style="left:165.6px;"><span>Destacing</span><span style="letter-spacing:-0.37px">Elist Store</span></div>

<div class="abs num" id="n2a" style="left:292.3px;">3</div>
<div class="abs num" id="n2b" style="left:331.3px;">0</div>
<div class="abs num" id="n2c" style="left:350.8px;"><span style="font-size:31px;transform:scaleX(0.88)">%</span></div>
<div class="bar" style="left:386.4px;"></div>
<div class="abs lab" id="l2" style="left:402.6px;"><span style="letter-spacing:-0.2px">Barckrate</span><span style="letter-spacing:0.15px;margin-left:1.2px">Voldiar</span></div>

<div class="abs num" id="n3" style="left:524.2px;letter-spacing:0.2px;font-size:30.5px;top:349.9px">24</div>
<div class="abs num" id="n3b" style="left:560px;top:355.3px;font-size:19.5px;letter-spacing:0"><span style="-webkit-text-stroke:0.3px #2b5aa6">%</span></div>
<div class="bar" style="left:588.2px;"></div>
<div class="abs lab" id="l3" style="left:604.6px;"><span style="letter-spacing:-0.24px">Breat to Carrdos</span><span>Vieniam</span></div>
</body>
</html>
